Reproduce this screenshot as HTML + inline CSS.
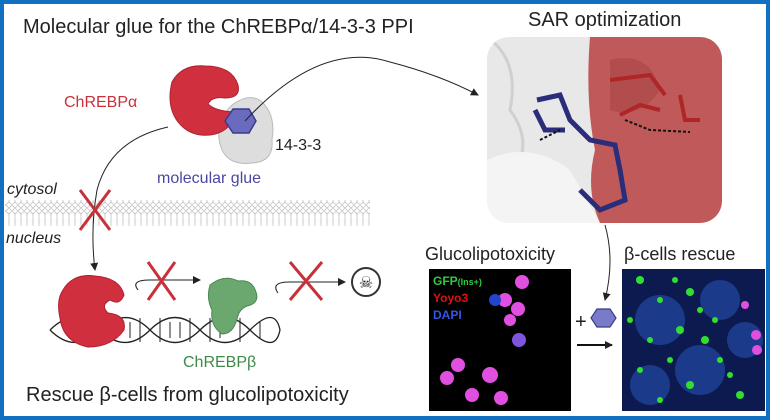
<!DOCTYPE html>
<html><head><meta charset="utf-8"><style>
html,body{margin:0;padding:0;background:#fff}
svg{display:block}
text{font-family:"Liberation Sans",sans-serif}
</style></head><body>
<svg width="770" height="420" viewBox="0 0 770 420" xmlns="http://www.w3.org/2000/svg">
<defs>
<marker id="ah" markerWidth="8" markerHeight="8" refX="7" refY="4" orient="auto" markerUnits="userSpaceOnUse"><path d="M0,0 L8,4 L0,8 z" fill="#222"/></marker>
<pattern id="mem" width="6" height="26" patternUnits="userSpaceOnUse"><circle cx="3" cy="3" r="2.3" fill="#fff" stroke="#aaa" stroke-width="0.6"/><circle cx="3" cy="23" r="2.3" fill="#fff" stroke="#aaa" stroke-width="0.6"/><path d="M2,5 Q4,9 2,13 M4,5 Q2,9 4,13 M2,13 Q4,17 2,21 M4,13 Q2,17 4,21" stroke="#c4c4c4" stroke-width="0.5" fill="none"/></pattern>
<clipPath id="sc"><rect x="487" y="37" width="235" height="186" rx="22"/></clipPath>
</defs>
<rect x="2" y="2" width="766" height="416" fill="#fff" stroke="#1270c0" stroke-width="4"/>
<text x="23" y="33" font-size="20" fill="#222">Molecular glue for the ChREBPα/14-3-3 PPI</text>
<text x="528" y="26" font-size="20" fill="#222">SAR optimization</text>

<rect x="5" y="200" width="365" height="26" fill="url(#mem)"/>
<text x="7" y="194" font-size="16" font-style="italic" fill="#222">cytosol</text>
<text x="6" y="243" font-size="16" font-style="italic" fill="#222">nucleus</text>

<path d="M222,150 Q212,125 232,105 Q250,92 262,102 Q276,115 272,140 Q274,162 252,163 Q230,166 222,150z" fill="#ddd" stroke="#bbb"/>
<path d="M172,82 Q182,64 205,66 Q232,66 238,85 Q241,98 225,98 Q212,96 208,104 Q215,111 234,112 Q232,132 210,135 Q190,137 178,122 Q166,106 172,82z" fill="#d0303e" stroke="#b02030"/>
<polygon points="225,121 233,109 249,109 256,121 249,133 233,133" fill="#6a6bbf" stroke="#3a3b8f" stroke-width="1.5"/>
<text x="64" y="107" font-size="16" fill="#c8303a">ChREBPα</text>
<text x="275" y="150" font-size="16" fill="#222">14-3-3</text>
<text x="157" y="183" font-size="16" fill="#4a48a0">molecular glue</text>

<path d="M245,121 Q320,40 390,62 Q440,75 478,95" fill="none" stroke="#222" stroke-width="1" marker-end="url(#ah)"/>
<path d="M168,127 Q110,140 97,190 Q90,230 95,270" fill="none" stroke="#222" stroke-width="1" marker-end="url(#ah)"/>
<path d="M80,190 L110,230 M110,190 L80,230" stroke="#c8303a" stroke-width="3"/>

<path d="M50,330 Q75,305 100,330 T150,330 T200,330 T250,330 T280,330" fill="none" stroke="#222" stroke-width="1.3"/>
<path d="M50,330 Q75,355 100,330 T150,330 T200,330 T250,330 T280,330" fill="none" stroke="#222" stroke-width="1.3"/>
<path d="M130,322 v16 M140,318 v24 M160,318 v24 M170,322 v16 M180,322 v16 M190,318 v24 M210,318 v24 M220,322 v16 M240,318 v24 M260,322 v16" stroke="#222" stroke-width="1"/>
<path d="M63,290 Q73,273 95,276 Q120,278 124,295 Q120,306 110,300 Q100,305 108,313 Q127,315 124,330 Q112,347 88,347 Q63,342 60,318 Q56,300 63,290z" fill="#d0303e" stroke="#b02030"/>
<path d="M210,285 Q224,274 238,281 Q252,279 256,292 Q260,303 247,306 Q239,309 237,319 Q233,334 222,334 Q210,326 212,310 Q206,298 210,285z" fill="#6aa870" stroke="#4a8850"/>
<text x="183" y="367" font-size="16" fill="#3d8a48">ChREBPβ</text>
<path d="M138,290 Q130,280 150,280 L200,280" fill="none" stroke="#222" stroke-width="1" marker-end="url(#ah)"/>
<path d="M148,262 L175,300 M175,262 L148,300" stroke="#c8303a" stroke-width="3"/>
<path d="M278,293 Q270,282 290,282 L345,282" fill="none" stroke="#222" stroke-width="1" marker-end="url(#ah)"/>
<path d="M290,262 L322,300 M322,262 L290,300" stroke="#c8303a" stroke-width="3"/>
<circle cx="366" cy="282" r="14" fill="#fff" stroke="#333" stroke-width="2"/>
<text x="366" y="288" font-size="16" text-anchor="middle" fill="#222">☠</text>
<text x="26" y="401" font-size="20" fill="#222">Rescue β-cells from glucolipotoxicity</text>

<g clip-path="url(#sc)">
<rect x="487" y="37" width="235" height="186" fill="#e8e8e8"/>
<path d="M487,37 Q520,60 510,110 Q540,150 500,190" fill="none" stroke="#d0d0d0" stroke-width="3"/>
<path d="M590,37 L722,37 L722,223 L600,223 Q585,190 595,150 Q585,100 590,37z" fill="#c05a5a"/>
<path d="M610,60 Q650,50 660,90 Q640,120 610,110z" fill="#a84545" opacity="0.6"/>
<path d="M487,160 Q530,140 570,170 L600,223 L487,223z" fill="#f4f4f4"/>
<path d="M537,100 L560,95 L570,120 L590,140 L615,145 L620,170 L625,200 L600,210 L580,190 M565,130 L545,130 L535,110" fill="none" stroke="#2a2d7a" stroke-width="5"/>
<path d="M610,80 L650,75 L665,95 M620,115 L640,105 L660,110 M680,95 L685,120 L700,120" fill="none" stroke="#b02525" stroke-width="4"/>
<path d="M540,140 L560,130 M625,120 L650,130 L690,132" fill="none" stroke="#111" stroke-width="2" stroke-dasharray="3,2"/>
</g>
<path d="M605,225 Q615,260 605,300" fill="none" stroke="#222" stroke-width="1" marker-end="url(#ah)"/>

<text x="425" y="260" font-size="18" fill="#222">Glucolipotoxicity</text>
<text x="624" y="260" font-size="18" fill="#222">β-cells rescue</text>
<rect x="429" y="269" width="142" height="142" fill="#000"/>
<text x="433" y="285" font-size="12" font-weight="bold" fill="#2ecc40">GFP<tspan font-size="9">(Ins+)</tspan></text>
<text x="433" y="302" font-size="12" font-weight="bold" fill="#e01010">Yoyo3</text>
<text x="433" y="319" font-size="12" font-weight="bold" fill="#3355ee">DAPI</text>
<g fill="#e050e0">
<circle cx="522" cy="282" r="7"/><circle cx="505" cy="300" r="7"/><circle cx="518" cy="309" r="7"/><circle cx="510" cy="320" r="6"/><circle cx="519" cy="340" r="7" fill="#8055dd"/><circle cx="458" cy="365" r="7"/><circle cx="490" cy="375" r="8"/><circle cx="472" cy="395" r="7"/><circle cx="501" cy="398" r="7"/><circle cx="447" cy="378" r="7"/>
</g>
<circle cx="495" cy="300" r="6" fill="#2244cc"/>
<text x="575" y="328" font-size="20" fill="#222">+</text>
<polygon points="591,318 597,309 610,309 616,318 610,327 597,327" fill="#7a7bc8" stroke="#3a3b8f" stroke-width="1.2"/>
<path d="M577,345 L612,345" stroke="#111" stroke-width="2" marker-end="url(#ah)"/>
<rect x="622" y="269" width="143" height="142" fill="#0c1a50"/>
<g fill="#1c3a8a"><circle cx="660" cy="320" r="25"/><circle cx="720" cy="300" r="20"/><circle cx="700" cy="370" r="25"/><circle cx="745" cy="340" r="18"/><circle cx="650" cy="385" r="20"/></g>
<g fill="#30e030">
<circle cx="640" cy="280" r="4"/><circle cx="660" cy="300" r="3"/><circle cx="690" cy="292" r="4"/><circle cx="700" cy="310" r="3"/><circle cx="680" cy="330" r="4"/><circle cx="650" cy="340" r="3"/><circle cx="705" cy="340" r="4"/><circle cx="720" cy="360" r="3"/><circle cx="670" cy="360" r="3"/><circle cx="640" cy="370" r="3"/><circle cx="690" cy="385" r="4"/><circle cx="660" cy="400" r="3"/><circle cx="740" cy="395" r="4"/><circle cx="715" cy="320" r="3"/><circle cx="675" cy="280" r="3"/><circle cx="630" cy="320" r="3"/><circle cx="730" cy="375" r="3"/></g>
<g fill="#e050e0"><circle cx="756" cy="335" r="5"/><circle cx="757" cy="350" r="5"/><circle cx="745" cy="305" r="4"/></g>
</svg>
</body></html>
